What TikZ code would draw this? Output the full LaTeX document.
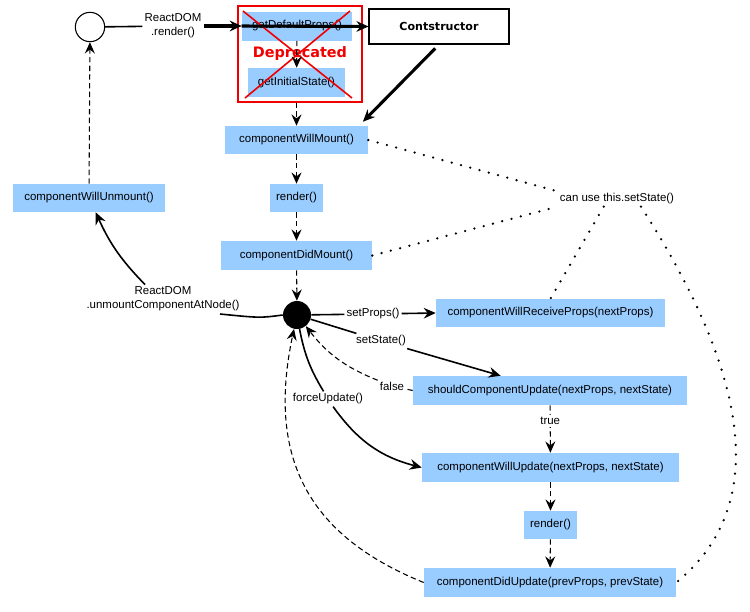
\documentclass[tikz,border=0pt]{standalone}
\usepackage{fontspec}
\setmainfont{Liberation Sans}
\newfontfamily\heavyfont{DejaVu Sans}
\usetikzlibrary{arrows.meta}
\definecolor{boxblue}{RGB}{153,204,255}
\definecolor{depred}{RGB}{240,0,0}
\begin{document}
\begin{tikzpicture}[x=0.75pt,y=-0.75pt,
  txt/.style={font=\fontsize{8.6}{10.5}\selectfont},
  box/.style={txt, fill=boxblue, inner sep=0pt, minimum height=21pt},
  lbl/.style={txt, fill=white, inner sep=1.5pt, align=center},
  solidline/.style={line width=1.2pt},
  dasharrow/.style={line width=0.8pt, dash pattern=on 4pt off 2.5pt, -{Stealth[length=8.5pt,width=7.5pt,inset=3pt]}},
  dashline/.style={line width=0.8pt, dash pattern=on 4pt off 2.5pt},
  solidarrow/.style={line width=1.2pt, -{Stealth[length=9pt,width=8pt,inset=3pt]}},
  thickarrow/.style={line width=2.3pt, -{Stealth[length=9pt,width=8pt,inset=3pt]}},
  dots/.style={line width=1.9pt, line cap=round, dash pattern=on 0pt off 7.2pt},
]
\useasboundingbox (0,0) rectangle (750,611);

% nodes
\node[circle, draw, line width=0.8pt, minimum size=22pt, inner sep=0pt] (start) at (90,27) {};
\node[lbl] (rlab) at (173,26) {ReactDOM\\.render()};
\node[box, minimum width=82.5pt, minimum height=21.75pt] (gdp) at (297,26) {getDefaultProps()};
\node[box, minimum width=72.75pt, minimum height=21.75pt] (gis) at (296.5,82.5) {getInitialState()};
\node[draw=depred, line width=1pt, minimum width=93pt, minimum height=72pt, inner sep=0pt] (dep) at (300,54) {};
\node[draw, line width=0.8pt, fill=white, minimum width=105pt, minimum height=26.25pt, inner sep=0pt,
      font=\heavyfont\bfseries\fontsize{8.3}{10}\selectfont] (ctor) at (439,26.5) {Contstructor};

\node[box, minimum width=107.25pt] (cwm) at (296.5,140) {componentWillMount()};
\node[box, minimum width=39.75pt] (render1) at (296.5,198) {render()};
\node[box, minimum width=113.25pt, minimum height=21.75pt] (cdm) at (296.5,255.5) {componentDidMount()};
\node[circle, fill=black, minimum size=21pt, inner sep=0pt] (hub) at (297,315) {};
\node[box, minimum width=114pt] (cwu) at (89,198) {componentWillUnmount()};
\node[lbl] (umlab) at (163,299) {ReactDOM\\.unmountComponentAtNode()};
\coordinate (umend) at (220,314);

\node[lbl] (splab) at (373,314) {setProps()};
\node[box, minimum width=171.75pt] (cwrp) at (550.5,313) {componentWillReceiveProps(nextProps)};
\node[lbl] (sslab) at (381,341) {setState()};
\node[box, minimum width=205.5pt, minimum height=21.75pt] (scu) at (550,390.5) {shouldComponentUpdate(nextProps, nextState)};
\node[lbl] (falselab) at (392,386) {false};
\node[box, minimum width=192.75pt, minimum height=21.75pt] (cwup) at (550.5,467.5) {componentWillUpdate(nextProps, nextState)};
\node[box, minimum width=39.75pt] (render2) at (550.5,525) {render()};
\node[box, minimum width=189pt, minimum height=21.75pt] (cdu) at (550,582.5) {componentDidUpdate(prevProps, prevState)};
\node[lbl] (fulab) at (328,399) {forceUpdate()};
\node[lbl] (canuse) at (617,199) {can use this.setState()};

% deprecated marks
\draw[depred, line width=1.2pt] (243,11) -- (352,98);
\draw[depred, line width=1.2pt] (350,11) -- (245,98);
\node[text=depred, font=\heavyfont\bfseries\fontsize{10.8}{12}\selectfont, inner sep=0pt] (deptext) at (300,54) {Deprecated};

% connectors
\draw[solidline] (start) -- (rlab);
\draw[thickarrow] (rlab.east) -- (gdp.west);
\draw[thickarrow] (gdp.west) -- (ctor.west);
\draw[dasharrow] (gdp) -- (gis);
\draw[thickarrow, shorten <=4pt] (ctor.south) -- ([xshift=-4pt,yshift=3pt]cwm.north east);
\draw[dasharrow] (dep.south -| cwm) -- (cwm.north);
\draw[dasharrow] (cwm) -- (render1);
\draw[dasharrow] (render1) -- (cdm);
\draw[dasharrow] (cdm) -- (hub);
\draw[dasharrow] (cwu) -- (start);

\draw[solidline] (hub.west) .. controls (260,318) .. (umend);
\draw[solidarrow] ([xshift=-13.5pt]umlab.north) to[bend left=10] ([xshift=5pt]cwu.south);

\draw[solidline] (hub) -- (splab);
\draw[solidarrow] (splab) -- (cwrp.west);
\draw[solidline] (hub) -- (sslab);
\draw[solidarrow] (sslab) -- ([xshift=-37pt]scu.north);
\draw[dashline] (scu.west) -- (falselab);
\draw[dasharrow] (falselab) to[bend left=15] (hub);
\draw[dasharrow] (scu) -- node[lbl, pos=0.33] (truelab) {true} (cwup);
\draw[dasharrow] (cwup) -- (render2);
\draw[dasharrow] (render2) -- (cdu);
\draw[solidline] (hub) to[bend right=10] (fulab);
\draw[solidarrow] (fulab) to[bend right=20] (cwup.west);
\draw[dasharrow] (cdu.west) to[out=158, in=258, looseness=1.15] (hub);

% dotted
\draw[dots] (cwm.east) -- (canuse.north west);
\draw[dots] (cdm.east) -- (canuse.south west);
\draw[dots] ([xshift=-10pt]canuse.south) -- (cwrp.north);
\draw[dots] ([xshift=18pt]canuse.south) .. controls (720,330) and (790,490) .. (cdu.east);
\end{tikzpicture}
\end{document}
